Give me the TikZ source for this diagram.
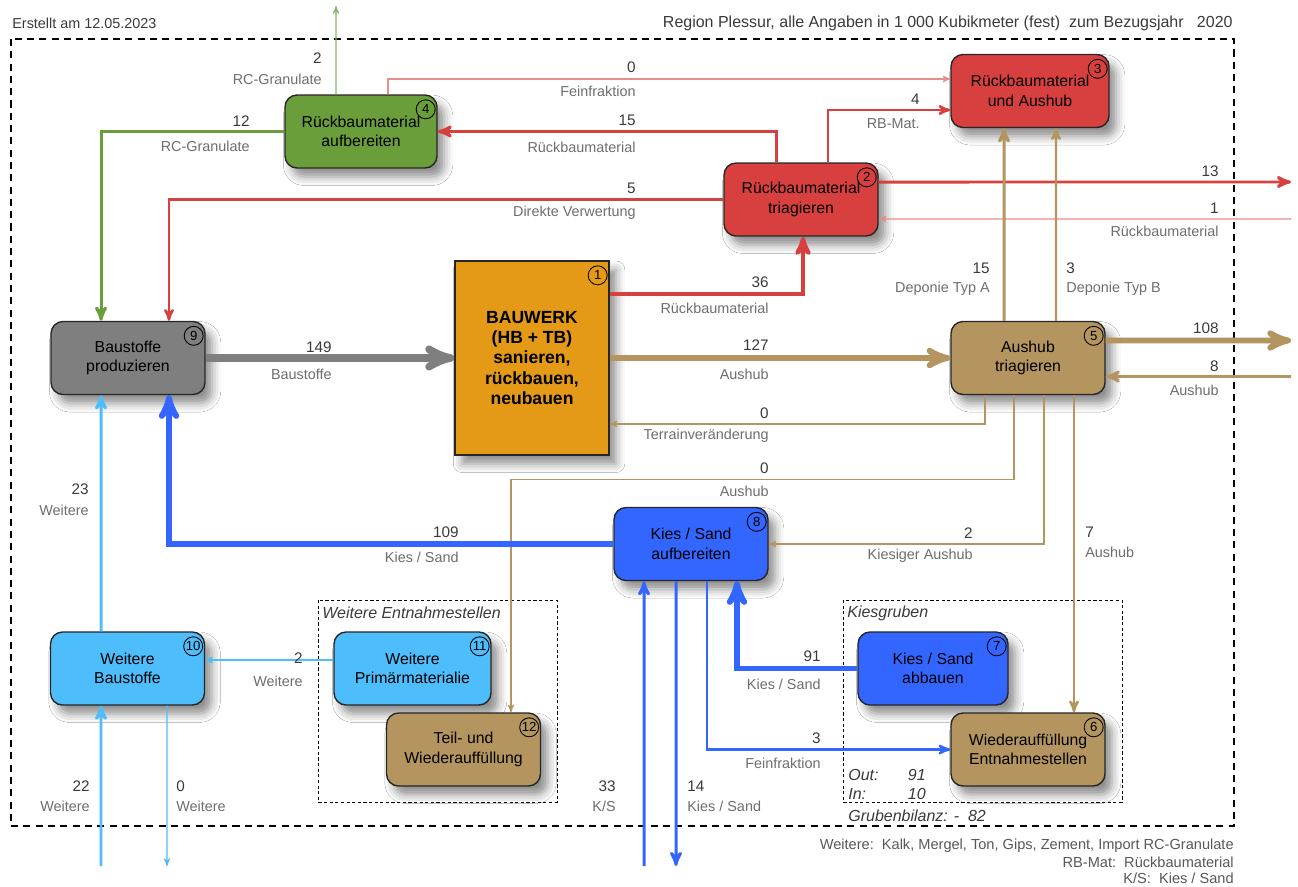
\documentclass[tikz,border=0pt]{standalone}
\usepackage{fontspec}
\setmainfont{Liberation Sans}
\usepackage{tikz}
\usepgflibrary{arrows}
\usetikzlibrary{shadows.blur}
\definecolor{cRB}{HTML}{D7403F}
\definecolor{cRC}{HTML}{6A9E3B}
\definecolor{cBW}{HTML}{E49A17}
\definecolor{cBS}{HTML}{7F7F7F}
\definecolor{cAH}{HTML}{B5955F}
\definecolor{cKS}{HTML}{3366FF}
\definecolor{cWE}{HTML}{4DBDFB}
\definecolor{txtd}{HTML}{3A3A3A}
\definecolor{txtl}{HTML}{6E6E6E}
\tikzstyle{arr}=[->,>=stealth']
\tikzstyle{f1}=[arr,line width=0.6pt]
\tikzstyle{f2}=[arr,line width=1.3pt]
\tikzstyle{f3}=[arr,line width=1.7pt]
\tikzstyle{f4}=[arr,line width=2.4pt]
\tikzstyle{f5}=[arr,line width=3.3pt]
\tikzstyle{f6}=[arr,line width=4.2pt]
\tikzstyle{proc}=[
  draw=black!85,line width=0.8pt,rounded corners=0.24cm,
  minimum width=3.08cm,minimum height=1.46cm,align=center,
  font=\fontsize{9}{11}\selectfont,
  blur shadow={shadow xshift=4pt,shadow yshift=-5pt,shadow blur radius=5pt,shadow opacity=45}]
\tikzstyle{bwbox}=[proc,rounded corners=0pt,fill=cBW,minimum height=3.88cm,
  font=\fontsize{10}{11.6}\selectfont\bfseries]
\tikzstyle{nrcirc}=[draw=black,circle,line width=0.5pt,minimum size=0.38cm,
  inner sep=0pt,font=\fontsize{7.5}{8}\selectfont]
\tikzstyle{num}=[inner sep=0pt,text=txtd,font=\fontsize{8.7}{10}\selectfont]
\tikzstyle{lbl}=[inner sep=0pt,text=txtl,font=\fontsize{8.2}{10}\selectfont]
\tikzstyle{hdr}=[inner sep=0pt,text=txtd,font=\fontsize{8.2}{10}\selectfont]
\tikzstyle{glbl}=[inner sep=0pt,text=txtd,font=\fontsize{9.1}{10}\selectfont\itshape]
\tikzstyle{leg}=[inner sep=0pt,text=txtl!80!black,font=\fontsize{8.3}{9}\selectfont]
\tikzstyle{gbox}=[line width=0.5pt,dash pattern=on 1.8pt off 1.4pt]
\newcommand\nrc[2]{\node[nrcirc] (#1-nr) at ([xshift=-0.24cm,yshift=-0.3cm]#1.north east) {#2};}

\begin{document}
\begin{tikzpicture}[x=0.02cm,y=-0.02cm]
  \useasboundingbox[fill=white] (0,0) rectangle (1298,886);

  % headline
  \node[hdr,anchor=west] (datum) at (12,23) {Erstellt am 12.05.2023};
  \node[hdr,anchor=east,font=\fontsize{9.1}{10}\selectfont] (titel) at (1233,23) {Region Plessur, alle Angaben in 1 000 Kubikmeter (fest) \ zum Bezugsjahr \ \ 2020};
  \draw[line width=0.8pt,dash pattern=on 4pt off 3pt] (11,39) rectangle (1234,826);

  % groups
  \draw[gbox] (318,600) rectangle (557,802);
  \draw[gbox] (843,600) rectangle (1122,802);
  \node[glbl,anchor=west] (gentn) at (322,613) {Weitere Entnahmestellen};
  \node[glbl,anchor=west] (gkies) at (847,613) {Kiesgruben};
  \node[glbl,anchor=west] (gout) at (848,775) {Out:};
  \node[glbl,anchor=east] (goutv) at (926,775) {91};
  \node[glbl,anchor=west] (gin) at (848,794) {In:};
  \node[glbl,anchor=east] (ginv) at (926,794) {10};
  \node[glbl,anchor=west] (gbil) at (848,816) {Grubenbilanz: -\ \ 82};

  % processes
  \node[proc,fill=cRC,minimum width=3.04cm] (rbauf) at (361,131.5) {Rückbaumaterial\\aufbereiten};
  \node[proc,fill=cRB,minimum width=3.16cm] (rbaush) at (1030,91) {Rückbaumaterial\\und Aushub};
  \node[proc,fill=cRB] (rbtri) at (801,199.5) {Rückbaumaterial\\triagieren};
  \node[bwbox] (bauwerk) at (532,358) {BAUWERK\\(HB + TB)\\sanieren,\\rückbauen,\\neubauen};
  \node[proc,fill=cBS] (bprod) at (128,358) {Baustoffe\\produzieren};
  \node[proc,fill=cAH] (aushtri) at (1028,358) {Aushub\\triagieren};
  \node[proc,fill=cKS] (ksauf) at (691,544) {Kies / Sand\\aufbereiten};
  \node[proc,fill=cWE] (wbau) at (127.5,668.5) {Weitere\\Baustoffe};
  \node[proc,fill=cWE,minimum width=3.14cm] (wprim) at (412.5,668.5) {Weitere\\Primärmaterialie};
  \node[proc,fill=cAH] (teilw) at (463.5,749.5) {Teil- und\\Wiederauffüllung};
  \node[proc,fill=cKS,minimum width=3cm] (ksabb) at (933,668.5) {Kies / Sand\\abbauen};
  \node[proc,fill=cAH] (wiederf) at (1028,749.5) {Wiederauffüllung\\Entnahmestellen};

  \nrc{bauwerk}{1}
  \nrc{rbtri}{2}
  \nrc{rbaush}{3}
  \nrc{rbauf}{4}
  \nrc{aushtri}{5}
  \nrc{wiederf}{6}
  \nrc{ksabb}{7}
  \nrc{ksauf}{8}
  \nrc{bprod}{9}
  \nrc{wbau}{10}
  \nrc{wprim}{11}
  \nrc{teilw}{12}

  % free ends
  \coordinate (rcout) at (336,6);
  \coordinate (out13) at (1291,182);
  \coordinate (in1) at (1291,219);
  \coordinate (out108) at (1291,340.5);
  \coordinate (in8) at (1291,376.5);
  \coordinate (in22) at (101,866);
  \coordinate (out0w) at (167,866);
  \coordinate (in33) at (644,866);
  \coordinate (out14) at (676,866);

  % flows
  \draw[f1,cRC!75] ([xshift=-0.5cm]rbauf.north) -- (rcout);
  \draw[f3,cRC] (rbauf.west) -| ([xshift=-0.54cm]bprod.north);
  \draw[f1,cRB!60] ([xshift=0.54cm]rbauf.north) |- ([yshift=0.24cm]rbaush.west);
  \draw[f3,cRB] ([xshift=-0.5cm]rbtri.north) |- (rbauf.east);
  \draw[f2,cRB] ([xshift=0.54cm]rbtri.north) |- ([yshift=-0.38cm]rbaush.west);
  \draw[f2,cRB] (rbtri.west) -| ([xshift=0.82cm]bprod.north);
  \draw[f4,cRB] ([yshift=1.28cm]bauwerk.east) -| ([xshift=0.04cm]rbtri.south);
  \draw[f3,cRB] ([yshift=0.35cm]rbtri.east) -- (out13);
  \draw[f1,cRB!60] (in1) -- ([yshift=-0.39cm]rbtri.east);
  \draw[f3,cAH] ([xshift=-0.48cm]aushtri.north) -- ([xshift=-0.52cm]rbaush.south);
  \draw[f2,cAH] ([xshift=0.56cm]aushtri.north) -- ([xshift=0.52cm]rbaush.south);
  \draw[f6,cBS] (bprod.east) -- (bauwerk.west);
  \draw[f5,cAH] (bauwerk.east) -- (aushtri.west);
  \draw[f1,cAH] ([xshift=-0.86cm]aushtri.south) |- ([yshift=-1.32cm]bauwerk.east);
  \draw[f1,cAH] ([xshift=-0.28cm]aushtri.south) -- ++(0,84) -| ([xshift=0.95cm]teilw.north);
  \draw[f1,cAH] ([xshift=0.32cm]aushtri.south) |- (ksauf.east);
  \draw[f2,cAH] ([xshift=0.92cm]aushtri.south) -- ([xshift=0.92cm]wiederf.north);
  \draw[f5,cAH] ([yshift=0.35cm]aushtri.east) -- (out108);
  \draw[f3,cAH] (in8) -- ([yshift=-0.37cm]aushtri.east);
  \draw[f5,cKS] (ksauf.west) -| ([xshift=0.82cm]bprod.south);
  \draw[f3,cWE] ([xshift=-0.53cm]wbau.north) -- ([xshift=-0.54cm]bprod.south);
  \draw[f1,cWE] ([yshift=0.17cm]wprim.west) -- ([yshift=0.17cm]wbau.east);
  \draw[f3,cWE] (in22) -- ([xshift=-0.53cm]wbau.south);
  \draw[f1,cWE] ([xshift=0.79cm]wbau.south) -- (out0w);
  \draw[f3,cKS] (in33) -- ([xshift=-0.94cm]ksauf.south);
  \draw[f3,cKS] ([xshift=-0.3cm]ksauf.south) -- (out14);
  \draw[f2,cKS] ([xshift=0.32cm]ksauf.south) |- (wiederf.west);
  \draw[f5,cKS] (ksabb.west) -| ([xshift=0.92cm]ksauf.south);

  % flow values
  \node[num,anchor=east] (v1) at (322,58) {2};
  \node[lbl,anchor=east] (t1) at (322,79) {RC-Granulate};
  \node[num,anchor=east] (v2) at (250,121) {12};
  \node[lbl,anchor=east] (t2) at (250,146) {RC-Granulate};
  \node[num,anchor=east] (v3) at (636,67) {0};
  \node[lbl,anchor=east] (t3) at (636,91) {Feinfraktion};
  \node[num,anchor=east] (v4) at (636,120) {15};
  \node[lbl,anchor=east] (t4) at (636,147) {Rückbaumaterial};
  \node[num,anchor=east] (v5) at (920,99) {4};
  \node[lbl,anchor=east] (t5) at (920,124) {RB-Mat.};
  \node[num,anchor=east] (v6) at (636,188) {5};
  \node[lbl,anchor=east] (t6) at (636,213) {Direkte Verwertung};
  \node[num,anchor=east] (v7) at (769,282) {36};
  \node[lbl,anchor=east] (t7) at (769,308) {Rückbaumaterial};
  \node[num,anchor=east] (v8) at (1219,171) {13};
  \node[num,anchor=east] (v9) at (1219,208) {1};
  \node[lbl,anchor=east] (t9) at (1219,231) {Rückbaumaterial};
  \node[num,anchor=east] (v10) at (990,268) {15};
  \node[lbl,anchor=east] (t10) at (990,289) {Deponie Typ A};
  \node[num,anchor=west] (v11) at (1066,268) {3};
  \node[lbl,anchor=west] (t11) at (1066,289) {Deponie Typ B};
  \node[num,anchor=east] (v12) at (332,347) {149};
  \node[lbl,anchor=east] (t12) at (332,374) {Baustoffe};
  \node[num,anchor=east] (v13) at (769,345) {127};
  \node[lbl,anchor=east] (t13) at (769,374) {Aushub};
  \node[num,anchor=east] (v14) at (769,413) {0};
  \node[lbl,anchor=east] (t14) at (769,436) {Terrainveränderung};
  \node[num,anchor=east] (v15) at (769,468) {0};
  \node[lbl,anchor=east] (t15) at (769,491) {Aushub};
  \node[num,anchor=east] (v16) at (973,533) {2};
  \node[lbl,anchor=east] (t16) at (973,556) {Kiesiger Aushub};
  \node[num,anchor=west] (v17) at (1085,532) {7};
  \node[lbl,anchor=west] (t17) at (1085,552) {Aushub};
  \node[num,anchor=east] (v18) at (1219,328) {108};
  \node[num,anchor=east] (v19) at (1219,366) {8};
  \node[lbl,anchor=east] (t19) at (1219,390) {Aushub};
  \node[num,anchor=east] (v20) at (459,532) {109};
  \node[lbl,anchor=east] (t20) at (459,557) {Kies / Sand};
  \node[num,anchor=east] (v21) at (89,489) {23};
  \node[lbl,anchor=east] (t21) at (89,510) {Weitere};
  \node[num,anchor=east] (v22) at (303,658) {2};
  \node[lbl,anchor=east] (t22) at (303,681) {Weitere};
  \node[num,anchor=east] (v23) at (90,786) {22};
  \node[lbl,anchor=east] (t23) at (90,806) {Weitere};
  \node[num,anchor=west] (v24) at (176,786) {0};
  \node[lbl,anchor=west] (t24) at (176,806) {Weitere};
  \node[num,anchor=east] (v25) at (616,786) {33};
  \node[lbl,anchor=east] (t25) at (616,806) {K/S};
  \node[num,anchor=west] (v26) at (687,786) {14};
  \node[lbl,anchor=west] (t26) at (687,806) {Kies / Sand};
  \node[num,anchor=east] (v27) at (821,738) {3};
  \node[lbl,anchor=east] (t27) at (821,763) {Feinfraktion};
  \node[num,anchor=east] (v28) at (821,656) {91};
  \node[lbl,anchor=east] (t28) at (821,684) {Kies / Sand};

  % legend
  \node[leg,anchor=east] (leg1) at (1234,846) {Weitere:\ \ Kalk, Mergel, Ton, Gips, Zement, Import RC-Granulate};
  \node[leg,anchor=east] (leg2) at (1234,862) {RB-Mat:\ \ Rückbaumaterial};
  \node[leg,anchor=east] (leg3) at (1234,878) {K/S:\ \ Kies / Sand};
\end{tikzpicture}
\end{document}
